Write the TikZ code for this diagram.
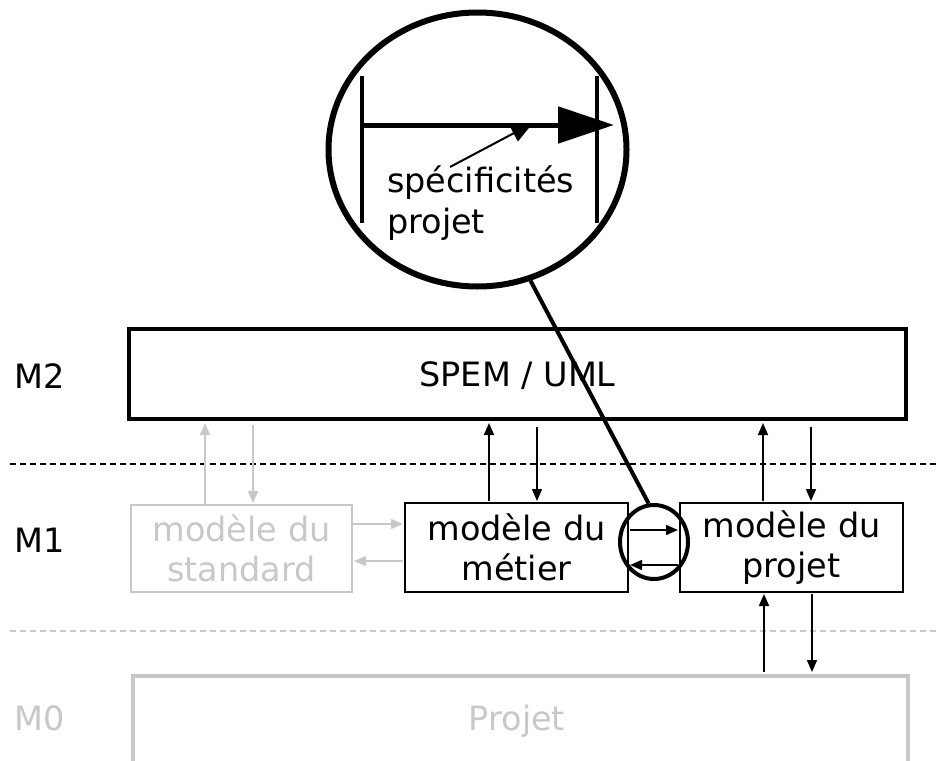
\documentclass[tikz,border=0pt]{standalone}
\usepackage{fontspec}
\setmainfont{DejaVu Sans}
\usetikzlibrary{arrows.meta,shapes.geometric,calc}
\definecolor{lgrey}{RGB}{200,200,200}
\tikzset{
  big/.style={font=\fontsize{33.5}{40.5}\selectfont},
  box/.style={draw, line width=2pt, align=center, inner sep=0pt, big},
  arr/.style={line width=1.6pt, -{Triangle[length=12pt,width=10pt]}},
  garr/.style={arr, draw=lgrey, fill=lgrey},
  lab/.style={big, inner sep=0pt},
  sep/.style={line width=2.6pt, dash pattern=on 6pt off 4pt},
}
\begin{document}
\begin{tikzpicture}[x=1pt,y=-1pt]
\useasboundingbox (0,0) rectangle (939,760);
% level separators
\coordinate (s1a) at (10,464);
\coordinate (s1b) at (939,464);
\coordinate (s2a) at (10,631);
\coordinate (s2b) at (939,631);
\draw[sep] (s1a) -- (s1b);
\draw[sep, lgrey] (s2a) -- (s2b);
% level labels
\node[lab, anchor=base] (m2) at (40,388) {M2};
\node[lab, anchor=base] (m1) at (40,552) {M1};
\node[lab, text=lgrey, anchor=base] (m0) at (40,730) {M0};
% boxes
\node[box, line width=4pt, minimum width=777pt, minimum height=90pt] (spem) at (517.5,374) {};
\node[lab, anchor=base] (spemt) at (517.5,386) {SPEM / UML};
\node[box, draw=lgrey, text=lgrey, minimum width=221pt, minimum height=87pt] (std) at (241.5,548.5) {modèle du\\standard};
\node[box, minimum width=223pt, minimum height=89pt] (met) at (516.5,547.5) {modèle du\\métier};
\node[box, minimum width=223pt, minimum height=89pt] (proj) at (791.5,547.5) {modèle du\\projet};
\node[box, draw=lgrey, line width=4pt, minimum width=775pt, minimum height=200pt, anchor=north] (pr) at (520.5,674) {};
\node[lab, text=lgrey, anchor=base] (prt) at (517,730) {Projet};
% grey arrows
\draw[garr] ($(std.north)+(-36.5,0)$) -- ($(std.north |- spem.south)+(-36.5,2)$);
\draw[garr] ($(std.north |- spem.south)+(11.5,4)$) -- ($(std.north)+(11.5,-1)$);
\draw[garr] ($(std.east)+(0,-24.5)$) -- ($(met.west |- std.east)+(-1,-24.5)$);
\draw[garr] ($(met.west |- std.east)+(-1,12.5)$) -- ($(std.east)+(1,12.5)$);
% black vertical arrows
\draw[arr] ($(met.north)+(-27.5,-1)$) -- ($(met.north |- spem.south)+(-27.5,2)$);
\draw[arr] ($(met.north |- spem.south)+(20.5,6)$) -- ($(met.north)+(20.5,-1)$);
\draw[arr] ($(proj.north)+(-28.5,-1)$) -- ($(proj.north |- spem.south)+(-28.5,2)$);
\draw[arr] ($(proj.north |- spem.south)+(19.5,6)$) -- ($(proj.north)+(19.5,-1)$);
\draw[arr] ($(proj.south |- pr.north)+(-27.5,-2)$) -- ($(proj.south)+(-27.5,1)$);
\draw[arr] ($(proj.south)+(20.5,1)$) -- ($(proj.south |- pr.north)+(20.5,-2)$);
% horizontal arrows metier <-> projet
\draw[arr] ($(met.east)+(1,-17.5)$) -- ($(proj.west |- met.east)+(-1,-17.5)$);
\draw[arr] ($(proj.west |- met.east)+(-1,17.5)$) -- ($(met.east)+(1,17.5)$);
% magnifier
\node[draw, ellipse, line width=4pt, minimum width=68pt, minimum height=74pt, inner sep=0pt] (zs) at (654,542) {};
\node[draw, ellipse, line width=6pt, minimum width=298pt, minimum height=274pt, inner sep=0pt] (zb) at (477.5,149.5) {};
\draw[line width=4pt] (zb.-68.5) -- (zs.98.7);
% magnified content
\coordinate (l1) at (362,76);
\coordinate (l2) at (362,223);
\coordinate (r1) at (597,76);
\coordinate (r2) at (597,223);
\coordinate (hs) at (362,125);
\coordinate (he) at (614,125);
\draw[line width=4pt] (l1) -- (l2);
\draw[line width=4pt] (r1) -- (r2);
\draw[line width=5pt, -{Triangle[length=56pt,width=36pt]}] (hs) -- (he);
\node[lab, anchor=base west, align=left] (spec) at (387,233) {spécificités\\projet};
\coordinate (sa) at (450,167);
\coordinate (sb) at (533,123);
\draw[line width=2pt, -{Triangle[length=22pt,width=18pt]}] (sa) -- (sb);
\end{tikzpicture}
\end{document}
